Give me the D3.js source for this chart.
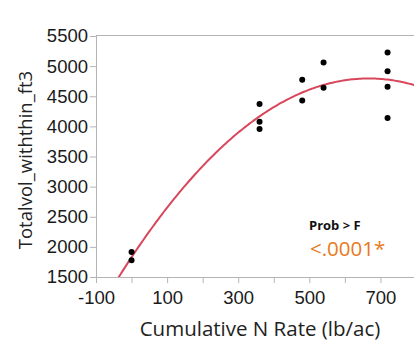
<!DOCTYPE html>
<html>
<head>
<meta charset="utf-8">
<script src="https://cdn.jsdelivr.net/npm/d3@7"></script>
<style>
  body { margin: 0; background: #fff; }
  svg { display: block; font-family: "Open Sans", sans-serif; }
  .axis path, .axis line { stroke: #b4b4b4; }
  .axis text { fill: #1a1a1a; font-size: 18.5px; }
</style>
</head>
<body>
<div id="chart"></div>
<script>
// observations (N rate, volume)
let nRate = [0, 0, 360, 360, 360, 480, 480, 540, 540, 720, 720, 720, 720];
let totalVol = [1917, 1778, 4373, 4078, 3956, 4773, 4428, 5062, 4640, 5228, 4917, 4657, 4140];

// quadratic fit: a + b*x + c*x^2
let fitCoef = [1828, 8.897, -0.00667];

let xTicks = [-100, 0, 100, 200, 300, 400, 500, 600, 700];
let xTickLabels = ["-100", "", "100", "", "300", "", "500", "", "700"];
let yTicks = [1500, 2000, 2500, 3000, 3500, 4000, 4500, 5000, 5500];

let width = 414,
  height = 345;
let plotLeft = 96,
  plotTop = 36,
  plotBottom = 277;

let svg = d3
  .select("#chart")
  .append("svg")
  .attr("width", width)
  .attr("height", height);

// scales
let xScale = d3.scaleLinear().domain([-100, 800]).range([plotLeft, plotLeft + 320]);
let yScale = d3.scaleLinear().domain([1500, 5500]).range([plotBottom, plotTop]);

svg
  .append("defs")
  .append("clipPath")
  .attr("id", "plot-clip")
  .append("rect")
  .attr("x", plotLeft)
  .attr("y", plotTop - 1)
  .attr("width", width - plotLeft)
  .attr("height", plotBottom - plotTop + 1);

// top border of frame
svg
  .append("line")
  .attr("x1", plotLeft)
  .attr("x2", width)
  .attr("y1", plotTop - 0.5)
  .attr("y2", plotTop - 0.5)
  .attr("stroke", "#b4b4b4");

// y axis
svg
  .append("g")
  .attr("class", "axis")
  .attr("transform", "translate(" + plotLeft + ",0)")
  .call(d3.axisLeft(yScale).tickValues(yTicks).tickSize(6).tickPadding(2).tickFormat(d3.format("d")))
  .call(g => g.select(".domain").attr("d", "M0.5," + (plotTop - 1) + "V" + plotBottom));

// x axis
svg
  .append("g")
  .attr("class", "axis")
  .attr("transform", "translate(0," + plotBottom + ")")
  .call(
    d3.axisBottom(xScale)
      .tickValues(xTicks)
      .tickSize(6)
      .tickPadding(8)
      .tickFormat((d, i) => xTickLabels[i])
  )
  .call(g => g.select(".domain").attr("d", "M" + plotLeft + ",0.5H" + width));

// fit curve
let fitX = d3.range(-100, 801, 5);
let line = d3
  .line()
  .x(d => xScale(d))
  .y(d => yScale(fitCoef[0] + fitCoef[1] * d + fitCoef[2] * d * d));

svg
  .append("path")
  .datum(fitX)
  .attr("clip-path", "url(#plot-clip)")
  .attr("fill", "none")
  .attr("stroke", "#d8475c")
  .attr("stroke-width", 2)
  .attr("d", line);

// points
svg
  .append("g")
  .selectAll("circle")
  .data(nRate)
  .enter()
  .append("circle")
  .attr("cx", d => xScale(d))
  .attr("cy", (d, i) => yScale(totalVol[i]))
  .attr("r", 3)
  .attr("fill", "#000");

// axis titles
svg
  .append("text")
  .text("Totalvol_withthin_ft3")
  .attr("transform", "translate(32,160) rotate(-90)")
  .attr("text-anchor", "middle")
  .attr("font-size", 18.5)
  .attr("fill", "#222");

svg
  .append("text")
  .text("Cumulative N Rate (lb/ac)")
  .attr("x", 260)
  .attr("y", 336)
  .attr("text-anchor", "middle")
  .attr("font-size", 20.5)
  .attr("fill", "#222");

// significance annotation
svg
  .append("text")
  .text("Prob > F")
  .attr("x", 309)
  .attr("y", 230)
  .attr("font-size", 13)
  .attr("font-weight", "bold")
  .attr("fill", "#111");

svg
  .append("text")
  .text("<.0001*")
  .attr("x", 310)
  .attr("y", 256)
  .attr("font-size", 20.5)
  .attr("fill", "#e8791c");
</script>
</body>
</html>
